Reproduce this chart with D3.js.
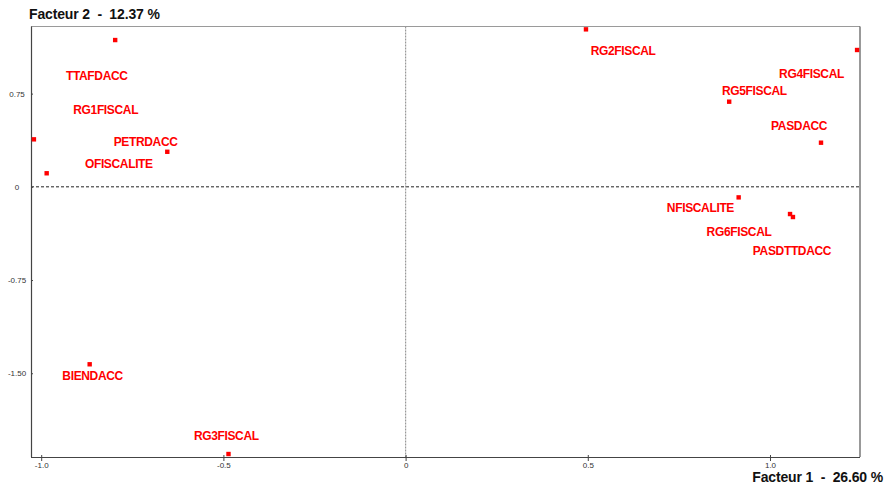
<!DOCTYPE html>
<html>
<head>
<meta charset="utf-8">
<script src="https://cdn.jsdelivr.net/npm/d3@7/dist/d3.min.js"></script>
<style>
  html, body { margin: 0; padding: 0; background: #fff; }
  svg { display: block; font-family: "Liberation Sans", Arial, sans-serif; }
  .ttl { white-space: pre; }
</style>
</head>
<body>
<svg id="chart" width="885" height="490"></svg>
<script>
// Variable names and their coordinates on factors 1 and 2
const names = ["TTAFDACC", "RG1FISCAL", "PETRDACC", "OFISCALITE", "BIENDACC", "RG3FISCAL",
               "RG2FISCAL", "RG4FISCAL", "RG5FISCAL", "PASDACC", "NFISCALITE", "RG6FISCAL", "PASDTTDACC"];
const f1 = [-0.797, -1.020, -0.654, -0.985, -0.867, -0.486, 0.495, 1.239, 0.888, 1.140, 0.914, 1.055, 1.063];
const f2 = [1.181, 0.382, 0.282, 0.109, -1.428, -2.150, 1.267, 1.101, 0.685, 0.355, -0.085, -0.219, -0.243];

// Label placement, in factor coordinates (left edge, vertical centre)
const labelF1 = [-0.932, -0.912, -0.801, -0.880, -0.942, -0.581, 0.508, 1.025, 0.868, 1.003, 0.717, 0.826, 0.953];
const labelF2 = [0.897, 0.624, 0.366, 0.189, -1.520, -2.005, 1.093, 0.913, 0.773, 0.495, -0.165, -0.361, -0.517];

// Axis ticks and titles
const xTicks = [-1.0, -0.5, 0, 0.5, 1.0];
const xTickLabels = ["-1.0", "-0.5", "0", "0.5", "1.0"];
const yTicks = [0.75, 0, -0.75, -1.5];
const yTickLabels = ["0.75", "0", "-0.75", "-1.50"];
const xTitle = "Facteur 1  -  26.60 %";
const yTitle = "Facteur 2  -  12.37 %";

(function () {
  const svg = d3.select("#chart");
  const pl = 31, pr = 860, pt = 26.5, pb = 457;

  const x = d3.scaleLinear().domain([-1.028, 1.247]).range([pl, pr]);
  const y = d3.scaleLinear().domain([-2.174, 1.29]).range([pb, pt]);

  // Frame
  svg.append("line").attr("x1", pl).attr("x2", pr).attr("y1", pt).attr("y2", pt)
    .attr("stroke", "#9a9a9a").attr("stroke-width", 1.2);
  svg.append("line").attr("x1", pr).attr("x2", pr).attr("y1", pt).attr("y2", pb)
    .attr("stroke", "#555").attr("stroke-width", 1.2);

  // Origin lines
  svg.append("line").attr("x1", pl).attr("x2", pr).attr("y1", y(0)).attr("y2", y(0))
    .attr("stroke", "#222").attr("stroke-width", 1).attr("stroke-dasharray", "3,2");
  svg.append("line").attr("x1", x(0)).attr("x2", x(0)).attr("y1", pt).attr("y2", pb)
    .attr("stroke", "#999").attr("stroke-width", 1.2).attr("stroke-dasharray", "2,1");

  // Bottom axis
  const xAxis = d3.axisBottom(x).tickValues(xTicks)
    .tickFormat((d, i) => xTickLabels[i]).tickSizeOuter(0).tickSizeInner(4).tickPadding(1.5);
  const gx = svg.append("g").attr("transform", `translate(0,${pb})`).call(xAxis);
  gx.select(".domain").attr("stroke", "#444").attr("stroke-width", 1.2)
    .attr("d", `M${pl},0.5H${pr}`);
  gx.selectAll(".tick line").attr("stroke", "#444").attr("y1", -2);
  gx.selectAll(".tick text").attr("fill", "#333").attr("font-size", 8)
    .attr("font-family", "Liberation Sans, Arial, sans-serif");

  // Left axis
  const yAxis = d3.axisLeft(y).tickValues(yTicks)
    .tickFormat((d, i) => yTickLabels[i]).tickSizeOuter(0).tickSizeInner(3).tickPadding(0);
  const gy = svg.append("g").attr("transform", `translate(${pl},0)`).call(yAxis);
  gy.select(".domain").attr("stroke", "#444").attr("stroke-width", 1.2)
    .attr("d", `M0.5,${pt}V${pb}`);
  gy.selectAll(".tick line").attr("stroke", "#444").attr("x2", 2);
  gy.selectAll(".tick text").attr("fill", "#333").attr("font-size", 8)
    .attr("font-family", "Liberation Sans, Arial, sans-serif")
    .attr("text-anchor", "middle").attr("x", -14);

  // Points
  const idx = d3.range(names.length);
  svg.append("g").selectAll("rect").data(idx).join("rect")
    .attr("x", i => x(f1[i]) - 2.2)
    .attr("y", i => y(f2[i]) - 2.2)
    .attr("width", 4.4).attr("height", 4.4)
    .attr("fill", "#ff0000");

  // Labels
  svg.append("g").selectAll("text").data(idx).join("text")
    .attr("x", i => x(labelF1[i]))
    .attr("y", i => y(labelF2[i]))
    .attr("dy", "0.36em")
    .attr("fill", "#ff0000")
    .attr("font-size", 12)
    .attr("font-weight", "bold")
    .attr("letter-spacing", "-0.35px")
    .text(i => names[i]);

  // Axis titles
  svg.append("text").attr("class", "ttl").attr("x", 29).attr("y", 18.5)
    .attr("font-size", 14).attr("font-weight", "bold").attr("fill", "#111")
    .attr("letter-spacing", "-0.15px").text(yTitle);
  svg.append("text").attr("class", "ttl").attr("x", 883).attr("y", 482)
    .attr("text-anchor", "end")
    .attr("font-size", 14).attr("font-weight", "bold").attr("fill", "#111")
    .attr("letter-spacing", "-0.15px").text(xTitle);
})();
</script>
</body>
</html>
